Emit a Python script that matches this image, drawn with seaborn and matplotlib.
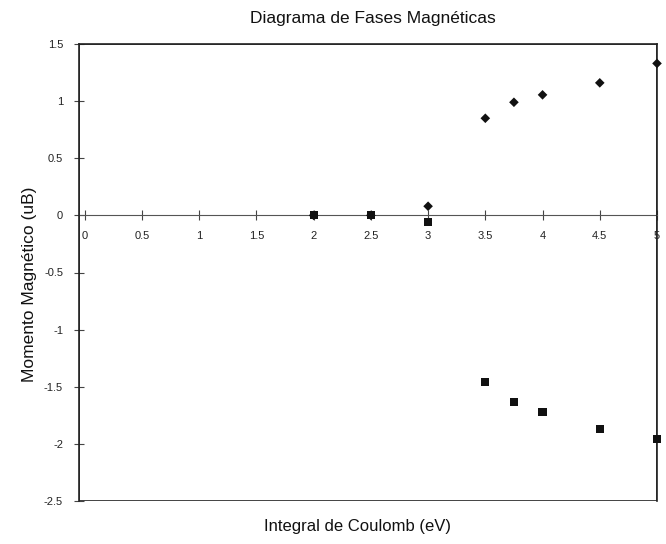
import matplotlib
matplotlib.use("Agg")
import matplotlib.pyplot as plt
from matplotlib.patches import Rectangle
import seaborn as sns
import pandas as pd

# Data
coulomb = [2.0, 2.5, 3.0, 3.5, 3.75, 4.0, 4.5, 5.0]
moment_up = [0.0, 0.0, 0.08, 0.85, 0.99, 1.055, 1.16, 1.33]
moment_down = [0.0, 0.0, -0.06, -1.46, -1.63, -1.72, -1.87, -1.96]
series_names = ["Spin +", "Spin -"]
x_ticks = [0, 0.5, 1, 1.5, 2, 2.5, 3, 3.5, 4, 4.5, 5]
y_ticks = [-2.5, -2, -1.5, -1, -0.5, 0, 0.5, 1, 1.5]

df_down = pd.DataFrame({"x": coulomb, "y": moment_down, "serie": series_names[1]})
df_up = pd.DataFrame({"x": coulomb, "y": moment_up, "serie": series_names[0]})

sns.set_style("white")
plt.rcParams["font.family"] = ["Liberation Sans", "DejaVu Sans"]

fig = plt.figure(figsize=(6.66, 5.44), dpi=100)
ax = fig.add_axes([79 / 666, 1 - 501 / 544, (657 - 79) / 666, (501 - 44) / 544])

sns.scatterplot(data=df_down, x="x", y="y", marker="s", color="#111111",
                s=34, edgecolor="none", legend=False, ax=ax, zorder=5, clip_on=False)
sns.scatterplot(data=df_up, x="x", y="y", marker="D", color="#111111",
                s=24, edgecolor="none", legend=False, ax=ax, zorder=6, clip_on=False)

ax.set_xlim(-0.05, 5.0)
ax.set_ylim(-2.5, 1.5)

ax.set_xticks(x_ticks)
ax.set_xticklabels([f"{t:g}" for t in x_ticks])
ax.set_yticks(y_ticks)
ax.set_yticklabels([f"{t:g}" for t in y_ticks])

for s in ["top", "right", "left"]:
    ax.spines[s].set_visible(True)
    ax.spines[s].set_color("#222222")
    ax.spines[s].set_linewidth(1.2)
ax.spines["bottom"].set_position(("data", 0))
ax.spines["bottom"].set_color("#555555")
ax.spines["bottom"].set_linewidth(0.8)
ax.add_patch(Rectangle((0, 0), 1, 1, transform=ax.transAxes, fill=False,
                       edgecolor="#222222", linewidth=1.2, zorder=3))

ax.tick_params(axis="x", bottom=True, direction="inout", length=7, width=0.8, color="#444444",
               labelsize=8, pad=8, labelcolor="#222222")
ax.tick_params(axis="y", left=True, direction="inout", length=7, width=0.8, color="#444444",
               labelsize=8, pad=8, labelcolor="#222222")
ax.set_xlabel("")
ax.set_ylabel("")

fig.text(373 / 666, 1 - 18 / 544, "Diagrama de Fases Magnéticas", ha="center", va="center",
         fontsize=12.5, color="#111111")
fig.text(357 / 666, 1 - 526 / 544, "Integral de Coulomb (eV)", ha="center", va="center",
         fontsize=12, color="#111111")
fig.text(30 / 666, 1 - 284 / 544, "Momento Magnético (uB)", ha="center", va="center",
         rotation=90, fontsize=12.5, color="#111111")

fig.savefig("out.png", dpi=100, facecolor="white")
